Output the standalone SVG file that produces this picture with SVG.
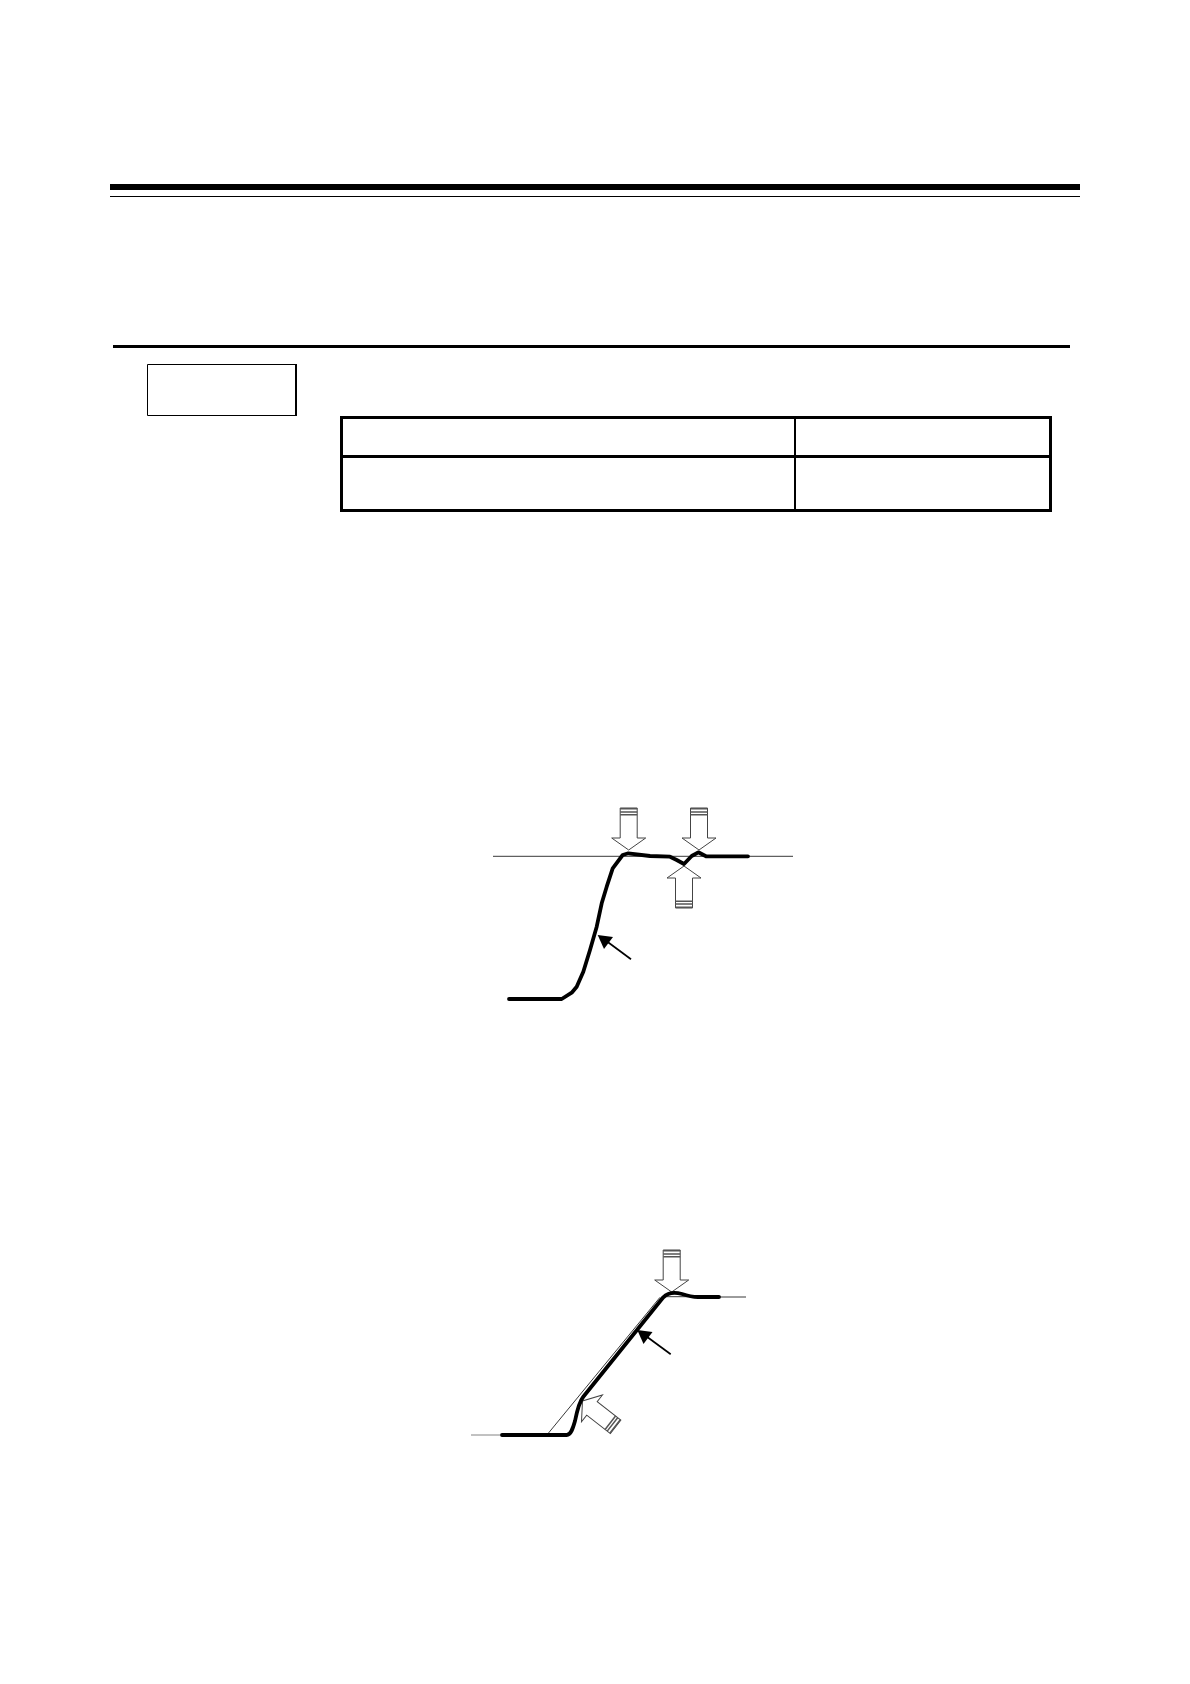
<svg xmlns="http://www.w3.org/2000/svg" xmlns:xlink="http://www.w3.org/1999/xlink" width="1190" height="1684" viewBox="0 0 1190 1684">
<style>
.thick{fill:none;stroke:#000;stroke-width:3.800;stroke-linejoin:round;stroke-linecap:round}
.thin{fill:none;stroke:#222;stroke-width:.9}
.ptr{stroke:#000;stroke-width:1.700;fill:none}
.head{fill:#000;stroke:none}
.hollow{fill:#fff;stroke:#444;stroke-width:1}
.stripe{stroke:#555;stroke-width:1.500}
</style>
<defs>
<g id="hollowArrow">
<path class="hollow" d="M0 0L17 -12H8.500V-42H-8.500V-12H-17Z"/>
<path class="stripe" d="M-8.500 -41.300H8.500M-8.500 -38H8.500M-8.500 -35.300H8.500"/>
</g>
</defs>
<rect width="1190" height="1684" fill="#fff"/>
<g id="header-rules">
<rect x="110" y="184" width="970" height="6"/>
<rect x="110" y="196" width="970" height="1"/>
<rect x="113" y="345" width="957" height="3"/>
</g>
<g id="label-box">
<path d="M147.500 364.500H296V415.500H147.500Z" fill="none" stroke="#000" stroke-width="1"/>
<rect x="295" y="364" width="2" height="52"/>
</g>
<g id="table" fill="none" stroke="#000" stroke-width="3">
<rect x="341.500" y="417.500" width="709" height="93"/>
<path d="M341 456.500H1051"/>
<path d="M795 417V511" stroke-width="2"/>
</g>
<g id="figure-1">
<use href="#hollowArrow" xlink:href="#hollowArrow" transform="translate(628.700 850)"/>
<use href="#hollowArrow" xlink:href="#hollowArrow" transform="translate(699 850)"/>
<use href="#hollowArrow" xlink:href="#hollowArrow" transform="translate(684 866) rotate(180)"/>
<path class="thin" d="M493 856.300H793"/>
<path class="thick" d="M509 999H561.700L571.700 992.700L576.700 986.700L583.300 971.700L590 950L596.700 926.700L601.700 903.300L606.700 886.700L612.700 868.300L622.700 855L628.300 853.300L650 856L670 856.700L676.700 860L684 864L691.700 856L698.300 852.300L706 856.300H748"/>
<path class="ptr" d="M631 959.300L603 938.500"/>
<path class="head" d="M597.700 935L613 937L604 949Z"/>
</g>
<g id="figure-2">
<use href="#hollowArrow" xlink:href="#hollowArrow" transform="translate(671.700 1292)"/>
<use href="#hollowArrow" xlink:href="#hollowArrow" transform="translate(582.500 1401) rotate(128)"/>
<path d="M471 1435H502" fill="none" stroke="#777" stroke-width=".9"/>
<path class="thin" d="M547.700 1434L660 1297.300M663 1296.700H720M719 1297H746"/>
<path class="thick" d="M502 1435H566.700C571 1435 573 1428 575 1421C577 1411 579 1402 583.300 1396.700L663.300 1297.300C668 1292.500 675 1292 682 1294C688 1296 692 1297 698 1297H719"/>
<path class="ptr" d="M670.700 1354.300L642.500 1333.500"/>
<path class="head" d="M637.300 1330L652.500 1332L643.500 1344Z"/>
</g>
</svg>
